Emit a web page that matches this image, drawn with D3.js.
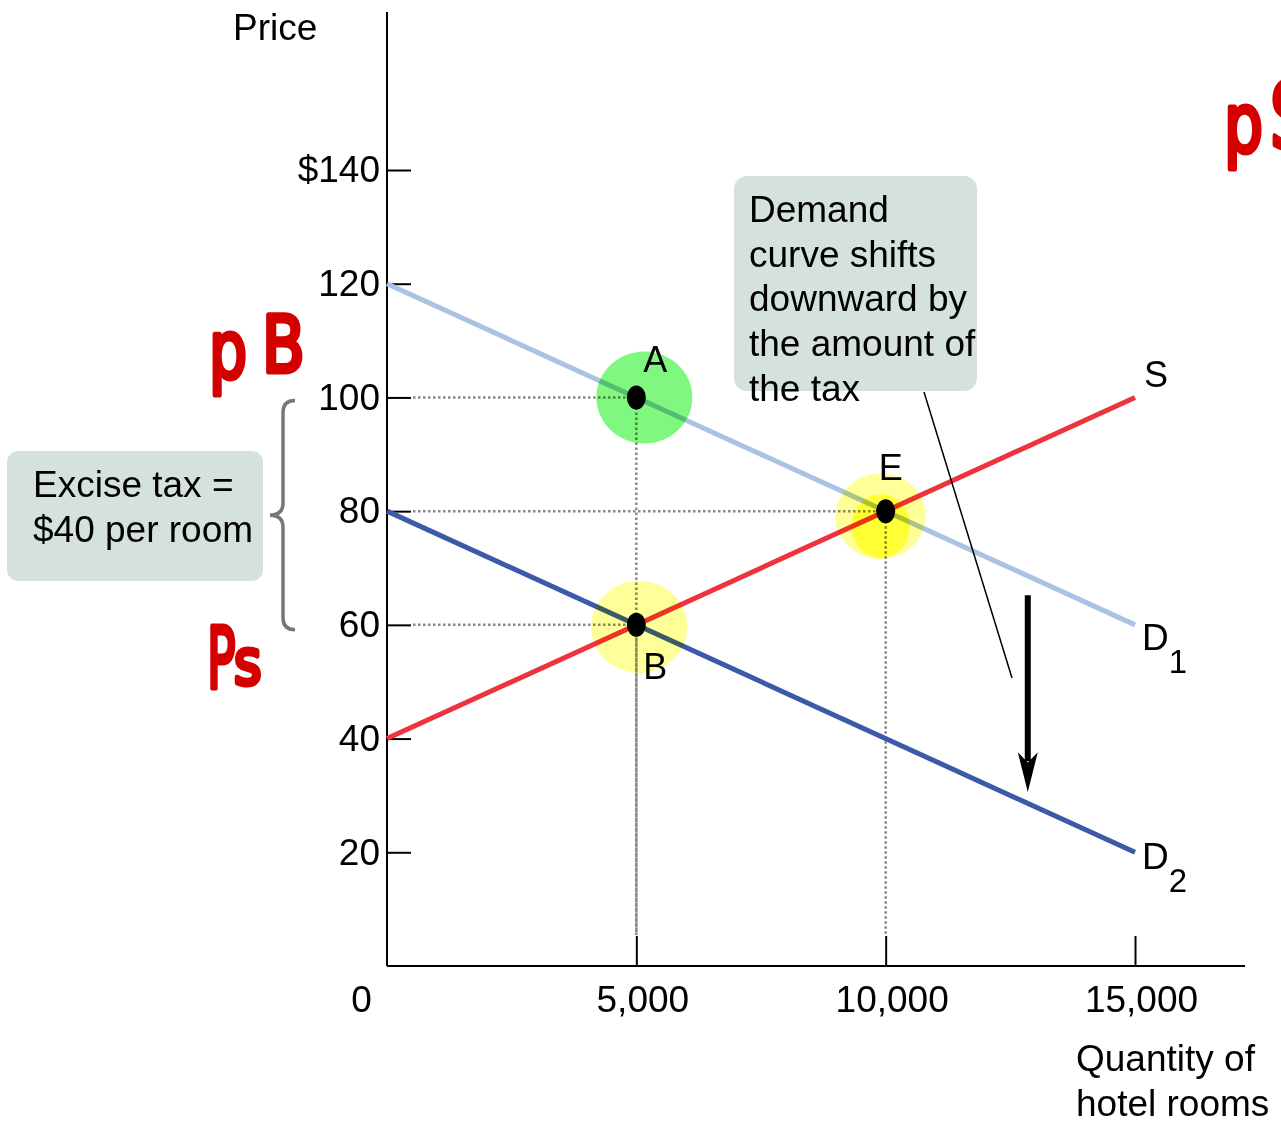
<!DOCTYPE html>
<html>
<head>
<meta charset="utf-8">
<script src="https://cdn.jsdelivr.net/npm/d3@7"></script>
<style>
  html, body { margin: 0; padding: 0; background: #fff; }
  svg { display: block; font-family: "Liberation Sans", Arial, sans-serif; }
</style>
</head>
<body>
<div id="chart"></div>
<script>
// Chart values
const quantityTicks = [0, 5000, 10000, 15000];
const priceTicks = [20, 40, 60, 80, 100, 120, 140];
const curveNames = ['D1', 'D2', 'S'];
const curvePriceAtZero = [120, 80, 40];
const curvePriceAtMax = [60, 20, 100];
const curveColors = ['#abc2e4', '#3b5aa7', '#ec333e'];
const pointNames = ['A', 'E', 'B'];
const pointQuantity = [5000, 10000, 5000];
const pointPrice = [100, 80, 60];

const width = 1281, height = 1128;

const svg = d3.select('#chart').append('svg')
  .attr('width', width)
  .attr('height', height);

const x = d3.scaleLinear().domain([0, 15000]).range([387, 1135]);
const y = d3.scaleLinear().domain([0, 140]).range([966, 170]);

// Axis lines
svg.append('line')
  .attr('x1', x(0)).attr('x2', x(0))
  .attr('y1', 12).attr('y2', y(0))
  .attr('stroke', '#000').attr('stroke-width', 2);
svg.append('line')
  .attr('x1', x(0)).attr('x2', 1245)
  .attr('y1', y(0)).attr('y2', y(0))
  .attr('stroke', '#000').attr('stroke-width', 2);

// Y axis (ticks point inward, labels left)
const yAxis = svg.append('g')
  .attr('transform', `translate(${x(0)},0)`)
  .call(d3.axisLeft(y)
    .tickValues(priceTicks)
    .tickSize(-24)
    .tickPadding(7)
    .tickFormat(d => d === 140 ? '$140' : d));
yAxis.select('.domain').remove();
yAxis.selectAll('.tick line').attr('stroke', '#000').attr('stroke-width', 2);
yAxis.selectAll('.tick text')
  .attr('font-size', 37).attr('fill', '#000')
  .attr('font-family', '"Liberation Sans", Arial, sans-serif');

// X axis (ticks point inward, labels below)
const xAxis = svg.append('g')
  .attr('transform', `translate(0,${y(0)})`)
  .call(d3.axisBottom(x)
    .tickValues(quantityTicks)
    .tickSize(-30)
    .tickPadding(20)
    .tickFormat(d3.format(',')));
xAxis.select('.domain').remove();
xAxis.selectAll('.tick line')
  .attr('stroke', '#000').attr('stroke-width', 2)
  .attr('display', d => d === 0 ? 'none' : null);
xAxis.selectAll('.tick text')
  .attr('font-size', 37).attr('fill', '#000')
  .attr('font-family', '"Liberation Sans", Arial, sans-serif')
  .attr('dx', d => d === 0 ? -26 : 6);

// Axis titles
svg.append('text')
  .attr('x', 233).attr('y', 40)
  .attr('font-size', 37)
  .text('Price');
const xTitle = svg.append('text')
  .attr('x', 1076).attr('y', 1071)
  .attr('font-size', 37);
xTitle.append('tspan').attr('x', 1076).text('Quantity of');
xTitle.append('tspan').attr('x', 1076).attr('dy', 45).text('hotel rooms');

// Dotted guide lines
const guides = svg.append('g')
  .attr('stroke', '#888')
  .attr('stroke-width', 2.5)
  .attr('stroke-dasharray', '2.5,2.5');
pointNames.forEach((n, i) => {
  guides.append('line')
    .attr('x1', x(0) + 26).attr('x2', x(pointQuantity[i]))
    .attr('y1', y(pointPrice[i])).attr('y2', y(pointPrice[i]));
  guides.append('line')
    .attr('x1', x(pointQuantity[i])).attr('x2', x(pointQuantity[i]))
    .attr('y1', y(pointPrice[i])).attr('y2', y(0) - 31);
});

// Supply and demand curves
curveNames.forEach((n, i) => {
  svg.append('line')
    .attr('x1', x(0)).attr('y1', y(curvePriceAtZero[i]))
    .attr('x2', x(15000)).attr('y2', y(curvePriceAtMax[i]))
    .attr('stroke', curveColors[i])
    .attr('stroke-width', 5);
});

// Highlighter blobs (drawn over lines like a marker)
const blobs = [
  { i: 0, dx: 8, dy: 0, rx: 48, ry: 46, fill: '#80f880' },
  { i: 1, dx: -5, dy: 5, rx: 45, ry: 43, fill: '#ffff99' },
  { i: 1, dx: -5, dy: 15, rx: 29, ry: 32, fill: '#ffff55' },
  { i: 2, dx: 3, dy: 2, rx: 48, ry: 46, fill: '#ffff99' }
];
svg.append('g').selectAll('ellipse')
  .data(blobs)
  .enter()
  .append('ellipse')
  .attr('cx', d => x(pointQuantity[d.i]) + d.dx)
  .attr('cy', d => y(pointPrice[d.i]) + d.dy)
  .attr('rx', d => d.rx)
  .attr('ry', d => d.ry)
  .attr('fill', d => d.fill)
  .style('mix-blend-mode', 'multiply');

// Equilibrium points
svg.append('g').selectAll('ellipse')
  .data(pointNames)
  .enter()
  .append('ellipse')
  .attr('cx', (d, i) => x(pointQuantity[i]))
  .attr('cy', (d, i) => y(pointPrice[i]))
  .attr('rx', 9.5)
  .attr('ry', 12)
  .attr('fill', '#000');

// Point labels
const pointLabelOffset = [[19, -25], [5, -31], [19, 54]];
pointNames.forEach((n, i) => {
  svg.append('text')
    .attr('x', x(pointQuantity[i]) + pointLabelOffset[i][0])
    .attr('y', y(pointPrice[i]) + pointLabelOffset[i][1])
    .attr('text-anchor', 'middle')
    .attr('font-size', 36)
    .text(n);
});

// Curve labels
svg.append('text').attr('x', 1144).attr('y', 387).attr('font-size', 36).text('S');
[[0, 650], [1, 869]].forEach(([i, yy]) => {
  const t = svg.append('text').attr('x', 1142).attr('y', yy).attr('font-size', 37);
  t.append('tspan').text('D');
  t.append('tspan').attr('dy', 23).attr('font-size', 33).text(curveNames[i].slice(1));
});

// Downward shift arrow
const arrowX = x(12850);
svg.append('line')
  .attr('x1', arrowX).attr('x2', arrowX)
  .attr('y1', y(65.2)).attr('y2', y(36))
  .attr('stroke', '#000').attr('stroke-width', 6);
svg.append('path')
  .attr('d', `M${arrowX},${y(30.6)} L${arrowX - 10},${y(37.6)} L${arrowX},${y(35.8)} L${arrowX + 10},${y(37.6)} Z`)
  .attr('fill', '#000');

// Callout: demand shift
svg.append('rect')
  .attr('x', 734).attr('y', 176)
  .attr('width', 243).attr('height', 215)
  .attr('rx', 13)
  .attr('fill', '#d5e1df');
svg.append('line')
  .attr('x1', 924).attr('y1', 392)
  .attr('x2', 1012).attr('y2', 678)
  .attr('stroke', '#000').attr('stroke-width', 1.5);
const note = svg.append('text').attr('font-size', 37);
['Demand', 'curve shifts', 'downward by', 'the amount of', 'the tax'].forEach((line, k) => {
  note.append('tspan').attr('x', 749).attr('y', 222 + k * 44.7).text(line);
});

// Callout: excise tax
svg.append('rect')
  .attr('x', 7).attr('y', 451)
  .attr('width', 256).attr('height', 130)
  .attr('rx', 11)
  .attr('fill', '#d5e1df');
const tax = svg.append('text').attr('font-size', 37);
tax.append('tspan').attr('x', 33).attr('y', 497).text('Excise tax =');
tax.append('tspan').attr('x', 33).attr('y', 542).text('$40 per room');

// Brace spanning buyer and seller price
const bTop = y(pointPrice[0]) + 3, bBot = y(pointPrice[2]) + 5, bMid = (bTop + bBot) / 2;
svg.append('path')
  .attr('d', `M295,${bTop} Q283,${bTop} 283,${bTop + 12} L283,${bMid - 12} Q283,${bMid} 270,${bMid}
              Q283,${bMid} 283,${bMid + 12} L283,${bBot - 12} Q283,${bBot} 295,${bBot}`)
  .attr('fill', 'none')
  .attr('stroke', '#777')
  .attr('stroke-width', 3.5);

// Handwritten annotations (marker style)
const ink = svg.append('g')
  .attr('fill', '#d40000')
  .attr('stroke', '#d40000')
  .attr('stroke-width', 5)
  .attr('stroke-linejoin', 'round')
  .attr('font-family', '"DejaVu Sans", sans-serif');
const inkMarks = [
  ['p', 209, 378, 80, 0.75],
  ['B', 262, 372, 78, 0.8],
  ['P', 207, 688, 86, 0.55],
  ['s', 234, 684, 62, 0.85],
  ['p', 1224, 152, 82, 0.75],
  ['S', 1270, 148, 90, 0.7]
];
inkMarks.forEach(([ch, tx, ty, fs, sx]) => {
  ink.append('text')
    .attr('transform', `translate(${tx},${ty}) scale(${sx},1)`)
    .attr('font-size', fs)
    .text(ch);
});
</script>
</body>
</html>
